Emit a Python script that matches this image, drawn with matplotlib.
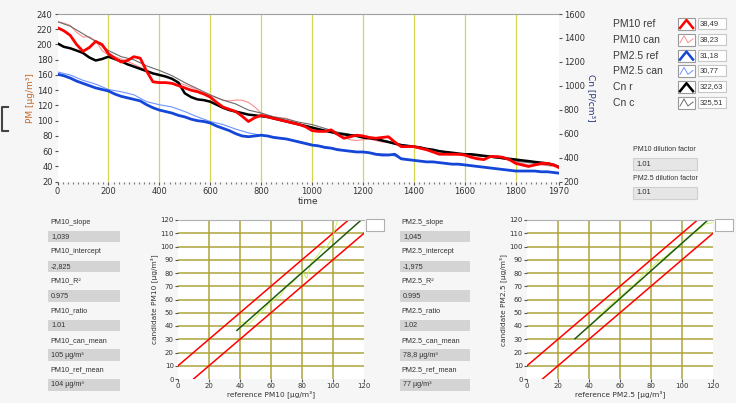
import matplotlib.pyplot as plt
from matplotlib.patches import Rectangle
from matplotlib.lines import Line2D

W, H = 736, 403

# ---- time series ----
t25 = list(range(0, 1951, 25)) + [1970]
t50 = list(range(0, 1951, 50)) + [1970]

# PM [ug/m3], sampled every 25 time units
pm10_ref = [222, 218, 212, 200, 191, 196, 204, 200, 188, 182, 177, 179, 184, 182, 165, 151,
            150, 150, 149, 146, 143, 140, 138, 135, 131, 124, 118, 115, 112, 106, 99, 104,
            107, 105, 103, 101, 99, 97, 95, 92, 87, 86, 86, 88, 82, 77, 79, 81,
            80, 78, 77, 78, 79, 72, 66, 66, 66, 64, 62, 59, 56, 56, 56, 56,
            55, 52, 50, 49, 53, 53, 52, 49, 44, 42, 40, 42, 44, 44, 42, 38.5]
pm10_can = [230, 228, 225, 216, 210, 210, 205, 192, 186, 184, 181, 178, 174, 170, 166, 162,
            160, 158, 155, 150, 147, 144, 140, 136, 133, 130, 127, 126, 127, 127, 124, 118,
            110, 107, 105, 104, 103, 100, 96, 92, 89, 87, 86, 85, 82, 78, 75, 74,
            75, 76, 74, 72, 72, 69, 67, 66, 65, 63, 61, 59, 58, 57, 56, 55,
            54, 53, 52, 53, 52, 51, 50, 48, 46, 44, 42, 41, 42, 41, 40, 38.2]
pm25_ref = [161, 159, 156, 152, 149, 146, 143, 141, 139, 135, 132, 130, 128, 126, 121, 117,
            114, 112, 110, 107, 105, 102, 100, 99, 97, 93, 90, 87, 83, 80, 79, 80,
            81, 80, 78, 77, 76, 74, 72, 70, 68, 67, 65, 64, 62, 61, 60, 59,
            59, 58, 56, 55, 55, 56, 50, 49, 48, 47, 46, 46, 45, 44, 43, 43,
            42, 41, 40, 39, 38, 37, 36, 35, 34, 34, 34, 34, 33, 33, 32, 31.2]
# sampled every 50 time units
pm25_can = [164, 160, 153, 148, 141, 138, 134, 125, 121, 118, 112, 105, 99, 95, 89, 84,
            81, 79, 76, 73, 69, 66, 63, 60, 59, 57, 56, 51, 48, 46, 45, 43,
            42, 40, 38, 36, 34, 34, 33, 32, 30.8]

# Cn [P/cm3]
cn_ref = [1355, 1326, 1314, 1295, 1275, 1237, 1212, 1224, 1244, 1224, 1205, 1180, 1161, 1142, 1123, 1104,
          1091, 1078, 1059, 1027, 938, 906, 887, 881, 868, 843, 817, 798, 785, 773, 760, 754,
          747, 741, 728, 715, 703, 690, 677, 665, 652, 639, 626, 614, 601, 595, 588, 582,
          569, 563, 556, 544, 531, 518, 505, 499, 493, 486, 474, 467, 455, 448, 442, 435,
          429, 429, 423, 416, 410, 404, 397, 391, 385, 378, 372, 365, 359, 353, 340, 323]
cn_can = [1536, 1498, 1435, 1371, 1295, 1244, 1218, 1167, 1129, 1085, 1027, 976, 925, 881, 849, 798,
          773, 741, 722, 696, 677, 645, 614, 595, 569, 556, 537, 512, 493, 474, 455, 442,
          429, 416, 404, 391, 372, 359, 346, 334, 325.5]

series_names = ["PM10 ref", "PM10 can", "PM2.5 ref", "PM2.5 can", "Cn r", "Cn c"]
series_last = ["38,49", "38,23", "31,18", "30,77", "322,63", "325,51"]
series_colors = ["#ff0000", "#ff8c8c", "#1446d8", "#6e94ff", "#000000", "#6a6a6a"]
series_thick = [True, False, True, False, True, False]

x_ticks = [0, 200, 400, 600, 800, 1000, 1200, 1400, 1600, 1800, 1970]

# ---- regression panels ----
pm10_stats = [("PM10_slope", "1,039"), ("PM10_intercept", "-2,825"), ("PM10_R\u00b2", "0.975"),
              ("PM10_ratio", "1.01"), ("PM10_can_mean", "105 \u00b5g/m\u00b3"),
              ("PM10_ref_mean", "104 \u00b5g/m\u00b3")]
pm25_stats = [("PM2.5_slope", "1,045"), ("PM2.5_intercept", "-1,975"), ("PM2.5_R\u00b2", "0.995"),
              ("PM2.5_ratio", "1.02"), ("PM2.5_can_mean", "78,8 \u00b5g/m\u00b3"),
              ("PM2.5_ref_mean", "77 \u00b5g/m\u00b3")]
pm10_slope, pm10_icpt, pm10_fit_range = 1.039, -2.825, [38, 118]
pm25_slope, pm25_icpt, pm25_fit_range = 1.045, -1.975, [31, 117]

# candidate vs reference trace (light green)
pm10_sc_ref = [39, 42, 45, 48, 52, 55, 58, 62, 66, 70, 74, 77, 80, 83, 86, 90, 93, 96, 99, 101, 103]
pm10_sc_can = [41, 43, 41, 44, 49, 52, 56, 60, 63, 70, 73, 77, 82, 76, 88, 93, 98, 100, 105, 112, 120]
pm25_sc_ref = [45, 50, 55, 60, 65, 70, 75, 80, 85, 90, 95, 100, 105, 110, 115, 120]
pm25_sc_can = [46, 52, 57, 62, 67, 72, 79, 84, 89, 93, 98, 103, 108, 112, 117, 118]

band_up_x, band_up_y = [0, 110], [10, 120]
band_lo_x, band_lo_y = [10, 120], [0, 110]

dilution = [("PM10 dilution factor", "1.01"), ("PM2.5 dilution factor", "1.01")]

# ---------------------------------------------------------------
fig = plt.figure(figsize=(W / 100, H / 100), dpi=100, facecolor="#f6f6f6")
TXT = "#333333"


def fx(x):
    return x / W


def fy(y):
    return 1 - y / H


def box(x0, y0, x1, y1, fc, ec="none", lw=0.8):
    fig.add_artist(Rectangle((fx(x0), fy(y1)), (x1 - x0) / W, (y1 - y0) / H,
                             transform=fig.transFigure, fc=fc, ec=ec, lw=lw))


def txt(x, y, s, size=5.5, color=TXT):
    fig.text(fx(x), fy(y), s, fontsize=size, color=color, va="center",
             family="Liberation Sans")


# ---- top time chart ----
ax = fig.add_axes([fx(57.5), fy(181.7), (559 - 57.5) / W, (181.7 - 14) / H])
ax.set_facecolor("white")
ax.set_xlim(0, 1970)
ax.set_ylim(20, 240)
for v in x_ticks[1:-1]:
    ax.axvline(v, color="#d6d650", lw=0.9, zorder=0)

ax.plot(t25, pm10_can, color=series_colors[1], lw=0.8)
ax.plot(t50, pm25_can, color=series_colors[3], lw=0.8)
ax.plot(t25, pm25_ref, color=series_colors[2], lw=2.0)

# Cn on its own right-hand scale
ax2 = ax.twinx()
ax2.set_ylim(200, 1600)
ax2.plot(t50, cn_can, color=series_colors[5], lw=0.8)
ax2.plot(t25, cn_ref, color=series_colors[4], lw=1.8)

# PM10 ref drawn on top of everything
ax3 = ax.twinx()
ax3.set_ylim(20, 240)
ax3.axis("off")
ax3.plot(t25, pm10_ref, color=series_colors[0], lw=2.0)

ax.set_yticks(range(20, 241, 20))
ax.set_xticks(x_ticks)
ax.set_xticks(range(0, 1971, 20), minor=True)
ax2.set_yticks(range(200, 1601, 200))
for a in (ax, ax2):
    for s in a.spines.values():
        s.set_visible(False)
    a.tick_params(labelsize=6, colors="#555555", labelcolor=TXT, length=2.5, pad=1)
ax.spines["top"].set_visible(True)
ax.spines["top"].set_color("#a0a0a0")
ax.tick_params(axis="x", which="minor", length=1.5, width=0.8, color="#777777")
for lab in ax.get_xticklabels() + ax.get_yticklabels() + ax2.get_yticklabels():
    lab.set_family("DejaVu Sans")
ax.set_xlabel("time", fontsize=6.5, color=TXT, labelpad=1)
ax.set_ylabel("PM [\u00b5g/m\u00b3]", fontsize=6.5, color="#c0682a", labelpad=1)
ax2.set_ylabel("Cn [P/cm\u00b3]", fontsize=6.5, color="#25357f", rotation=270, labelpad=8)

# left bracket
fig.add_artist(Line2D([fx(8), fx(2), fx(2), fx(8)], [fy(107), fy(107), fy(131), fy(131)],
                      transform=fig.transFigure, color="#444444", lw=1.5))

# ---- legend with last values ----
for i, name in enumerate(series_names):
    yc = 24 + i * 15.8
    txt(613, yc, name, size=7.5, color="#3a3a3a")
    box(678, yc - 6, 695, yc + 6, "white", "#9a9a9a")
    if series_thick[i]:
        xs = [680, 686.5, 693]
        ys = [yc + 4, yc - 4, yc + 4]
        lw = 1.8
    else:
        xs = [680, 684, 688, 693]
        ys = [yc + 3, yc - 4, yc + 3, yc - 1]
        lw = 0.7
    fig.add_artist(Line2D([fx(v) for v in xs], [fy(v) for v in ys],
                          transform=fig.transFigure, color=series_colors[i], lw=lw))
    box(698, yc - 6, 726, yc + 5, "white", "#c8c8c8")
    txt(700, yc - 0.5, series_last[i], size=5.5)

for i, (lab, val) in enumerate(dilution):
    y0 = 150 + i * 29
    txt(633, y0, lab, size=5)
    box(633, y0 + 8, 697, y0 + 20, "#e6e6e6", "#d0d0d0")
    txt(636, y0 + 14, val, size=5.5)


# ---- stats panels ----
def stats_panel(x_lab, x0, x1, stats):
    for i, (lab, val) in enumerate(stats):
        yl = 222 + i * 29.6
        txt(x_lab, yl, lab, size=5.2)
        box(x0, yl + 9, x1, yl + 20.5, "#d4d4d4")
        txt(x0 + 3, yl + 15, val, size=5.2)


stats_panel(50, 48, 120, pm10_stats)
stats_panel(401, 400, 470, pm25_stats)


# ---- scatter panels ----
def scatter_panel(left, name, sc_ref, sc_can, slope, icpt, fit_range):
    a = fig.add_axes([fx(left), fy(379), 186 / W, (379 - 220) / H])
    a.set_facecolor("white")
    a.set_xlim(0, 120)
    a.set_ylim(0, 120)
    for v in range(20, 101, 20):
        a.axvline(v, color="#aca43a", lw=1.1, zorder=0)
    for v in range(10, 111, 10):
        a.axhline(v, color="#aca43a", lw=1.1, zorder=0)
    a.plot(band_up_x, band_up_y, color="red", lw=1.1)
    a.plot(band_lo_x, band_lo_y, color="red", lw=1.1)
    a.plot(sc_ref, sc_can, color="#ccf060", lw=0.7)
    a.plot(fit_range, [slope * v + icpt for v in fit_range], color="#1e5a10", lw=1.1)
    a.set_xticks(range(0, 121, 20))
    a.set_yticks(range(0, 121, 10))
    for s in a.spines.values():
        s.set_visible(False)
    a.spines["top"].set_visible(True)
    a.spines["top"].set_color("#b0b0b0")
    a.tick_params(labelsize=5, colors="#555555", labelcolor=TXT, length=2, pad=1)
    a.set_xlabel("reference %s [\u00b5g/m\u00b3]" % name, fontsize=5.3, color=TXT, labelpad=1)
    a.set_ylabel("candidate %s [\u00b5g/m\u00b3]" % name, fontsize=5.3, color=TXT, labelpad=2)
    box(left + 188, 219, left + 206, 231, "white", "#b0b0b0")


scatter_panel(178, "PM10", pm10_sc_ref, pm10_sc_can, pm10_slope, pm10_icpt, pm10_fit_range)
scatter_panel(527, "PM2.5", pm25_sc_ref, pm25_sc_can, pm25_slope, pm25_icpt, pm25_fit_range)

fig.savefig("out.png", dpi=100, facecolor=fig.get_facecolor())
